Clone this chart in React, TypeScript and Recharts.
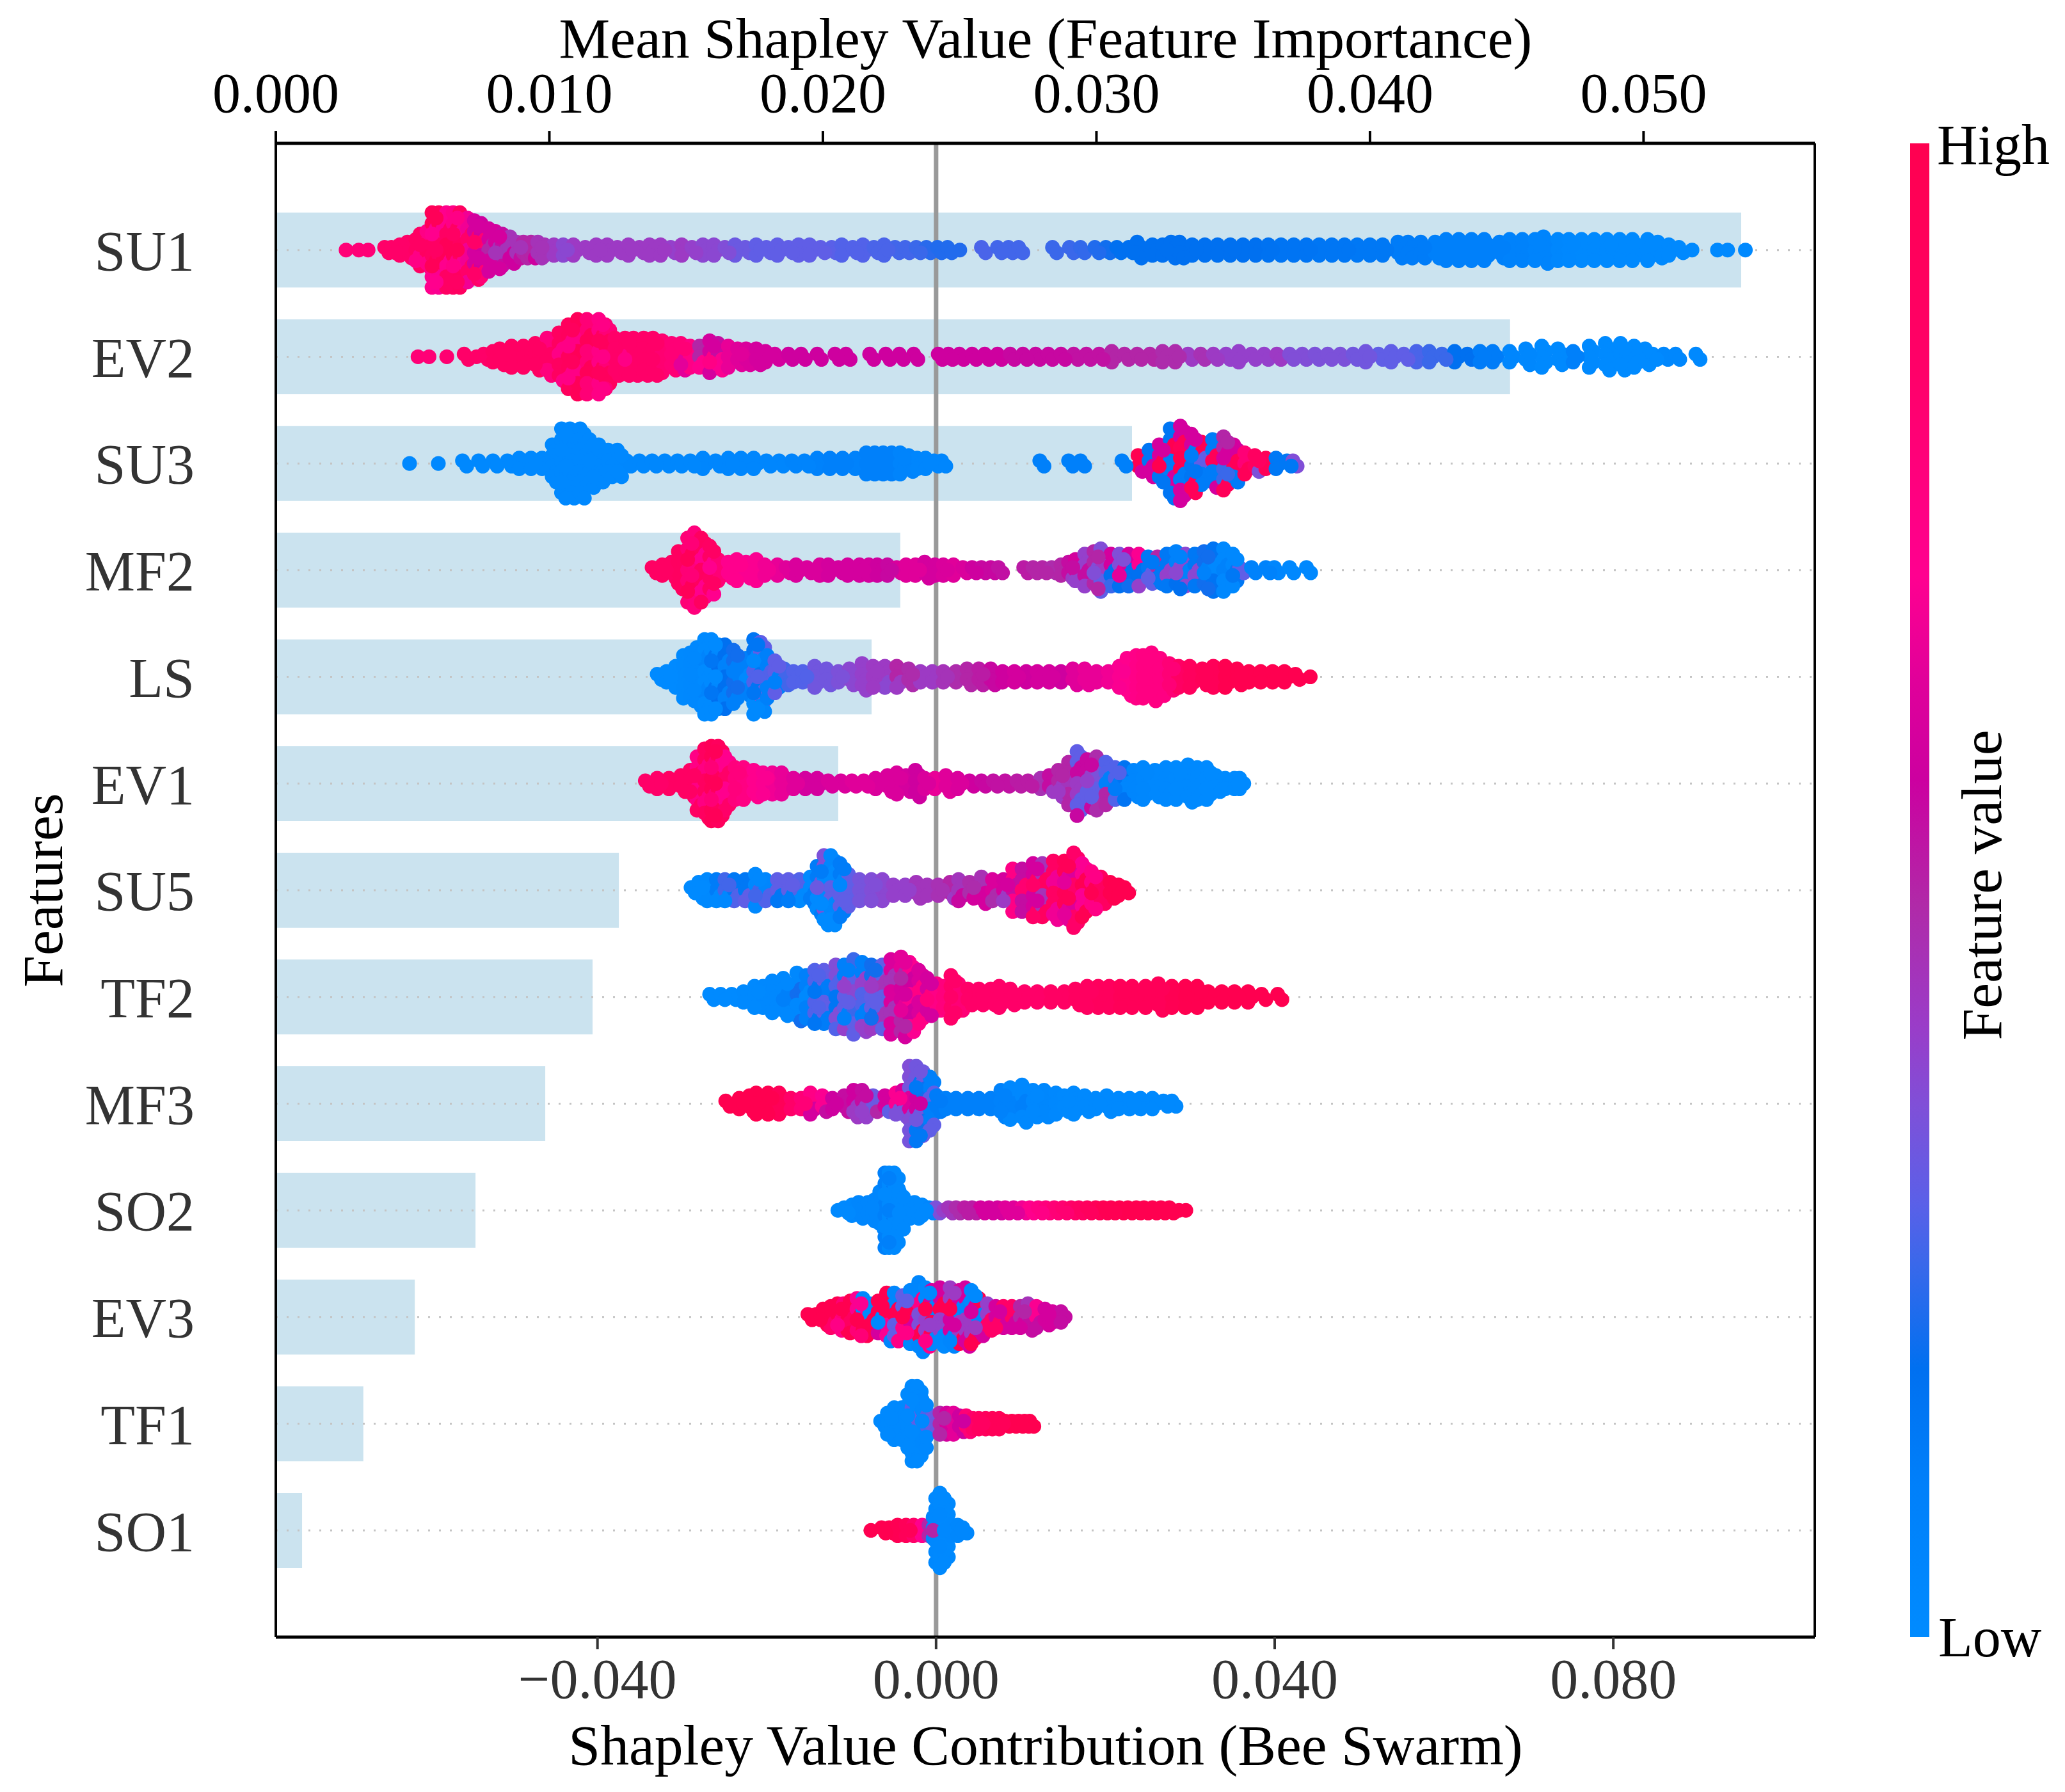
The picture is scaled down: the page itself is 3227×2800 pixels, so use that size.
import React from 'react';
import { ComposedChart, Bar, Scatter, XAxis, YAxis, ReferenceLine } from 'recharts';

const FEATURES = ['SU1', 'EV2', 'SU3', 'MF2', 'LS', 'EV1', 'SU5', 'TF2', 'MF3', 'SO2', 'EV3', 'TF1', 'SO1'];
const MEAN_SHAP = [0.05357, 0.04512, 0.0313, 0.02283, 0.02178, 0.02056, 0.01254, 0.01158, 0.00985, 0.0073, 0.00508, 0.0032, 0.00096];
const TOP_TICKS = [0, 0.01, 0.02, 0.03, 0.04, 0.05];
const BOTTOM_TICKS = [-0.04, 0, 0.04, 0.08];
const ROW_TICKS = [0, 1, 2, 3, 4, 5, 6, 7, 8, 9, 10, 11, 12];

// colour map, feature value 0..1
const CMAP_POS = [0, 0.1, 0.18, 0.25, 0.29, 0.355, 0.41, 0.49, 0.574, 0.64, 0.71, 0.85, 1];
const CMAP_HEX = ['#008bff', '#0080fa', '#0070f0', '#3a68ea', '#5a60e8', '#7f50d8', '#9a3cc8', '#b02aa8', '#cc00a0', '#e0009a', '#ff0090', '#ff0068', '#ff0050'];

// swarm columns: shap value (x 1e-3), dots stacked in the column, feature value(s)
const SU1_X = [-69.7,-68.2,-67.1,-64.9,-64.1,-63.1,-62.2,-61.2,-60.7,-59.9,-59.3,-58.5,-57.6,-56.8,-56,-55.1,-54.3,-53.5,-52.6,-51.8,-51,-50.1,-49.3,-48.5,-47.6,-46.8,-46,-44.9,-43.8,-42.6,-41.2,-39.9,-38.6,-37.4,-36.1,-34.8,-33.6,-32.3,-31.1,-29.8,-28.6,-27.3,-26,-24.7,-23.5,-22.3,-21,-19.8,-18.5,-17.2,-16,-14.7,-13.4,-12.1,-10.9,-9.6,-8.4,-7.1,-5.9,-4.6,-3.4,-2.1,-0.9,0.4,1.6,2.8,5.6,7.5,8.8,10,14,16,17.3,19,20.3,21.6,23,24,25.8,27,28,29,30.5,32,33.5,35,36.5,38,39.5,41,42.5,44,45.5,47,48.5,50,51.5,53,54.8,56,57.5,59.2,60.5,62,63.5,65,66.8,68,69.5,71,72,73.7,75,76.5,78,79.5,81,82.5,84.3,85.5,86.8,88,89.3,92.3,93.5,95.6];
const SU1_N = [1,1,1,2,2,3,4,5,7,8,15,15,15,15,15,13,12,11,9,8,7,6,4,4,4,4,3,3,3,3,2,3,3,2,3,2,3,3,2,3,2,3,3,2,3,2,3,2,3,2,3,3,2,2,3,2,3,2,3,2,2,2,2,2,2,1,2,2,2,2,2,2,2,2,2,2,2,4,3,3,4,4,3,3,3,3,3,3,3,3,3,3,3,3,3,3,3,3,4,4,4,4,5,5,5,5,4,5,5,5,6,5,5,5,5,5,5,5,5,4,3,2,1,1,1,1];
const SU1_F = [0.8,0.8,0.8,0.85,0.85,0.85,0.85,[0.88,0.75],[0.88,0.75],[0.9,0.75],[0.95,0.72,0.88],[0.95,0.7,0.88],[0.95,0.72,0.88],[0.95,0.75,0.88],[0.9,0.7],[0.85,0.68],[0.85,0.6],[0.8,0.58],[0.6,0.5],[0.6,0.45],[0.55,0.45],[0.58,0.45],[0.55,0.45],0.5,[0.5,0.58],0.45,0.45,0.42,0.38,0.42,0.42,0.42,0.42,0.42,0.42,0.42,0.42,0.42,0.4,0.42,0.4,0.38,0.38,0.36,0.32,0.32,0.3,0.3,0.3,0.3,0.3,0.3,0.3,0.29,0.28,0.28,0.28,0.27,0.27,0.26,0.26,0.25,0.23,0.22,0.22,0.22,0.27,0.26,0.26,0.26,0.25,0.25,0.24,0.22,0.2,0.18,0.18,0.18,0.18,0.18,0.18,0.18,0.18,0.18,0.18,0.18,0.18,0.18,0.17,0.16,0.16,0.16,0.15,0.15,0.15,0.14,0.14,0.14,0.12,0.12,0.12,0.1,0.1,0.1,0.1,0.1,0.1,0.08,0.08,0.06,0.06,0.04,0.03,0.02,0.02,0.02,0.02,0.02,0.02,0.02,0.02,0.02,0.02,0.02,0.02,0.02];

const EV2_X = [-61.2,-59.9,-57.8,-55.5,-54.3,-53.2,-52.1,-51.3,-49.9,-48.5,-47.1,-45.7,-44.3,-43.2,-42.1,-41,-39.6,-38.8,-37.7,-36.5,-35.5,-34.3,-33.2,-32.1,-31,-29.9,-28.8,-27.7,-26.5,-25.5,-24.3,-23.2,-22.2,-21,-19.9,-18.8,-17.2,-15.7,-13.8,-11.7,-10.4,-7.6,-5.7,-4.1,-2.4,0.5,1.7,3,4.5,6,7.5,9,10.5,12,13.5,15,16.5,18,19.5,21,22.5,24,25.5,27,28.5,30,31.5,33,34.5,36,37.5,39,40.5,42,43.5,45,46.5,48,49.5,51,52.5,54,55.5,57,58.5,60,61.5,63,64.5,66,68,69.9,71.8,73.7,75.5,77.4,79.3,81.1,82.7,84,84.9,86.2,87.6,90];
const EV2_N = [1,1,1,2,1,2,3,4,5,5,6,8,10,13,15,15,15,13,8,8,8,8,8,7,6,6,5,5,7,6,5,4,4,4,3,2,2,2,2,2,2,2,2,2,2,2,2,2,2,2,2,2,2,2,2,2,2,2,2,3,2,2,2,3,3,2,2,2,2,3,2,2,2,2,2,2,2,2,2,3,2,3,2,3,3,2,3,2,3,3,3,4,5,4,3,5,6,6,5,4,2,2,2,2];
const EV2_F = [0.8,0.8,0.82,0.85,0.85,0.85,0.88,0.88,0.88,0.88,0.88,[0.88,0.78],[0.9,0.75],[0.92,0.75],[0.95,0.75],[0.95,0.8],[0.92,0.75],[0.92,0.8],0.85,[0.85,0.75],0.85,0.85,0.85,0.82,0.8,[0.8,0.65],0.75,[0.72,0.5],[0.75,0.6],[0.7,0.55],0.66,0.64,0.62,0.6,0.6,0.6,0.58,0.58,0.58,0.58,0.58,0.58,0.58,0.58,0.58,0.58,0.58,0.58,0.58,0.58,0.58,0.56,0.56,0.56,0.56,[0.56,0.5],0.54,0.54,0.54,[0.54,0.5],0.5,[0.5,0.45],[0.5,0.45],0.48,0.48,[0.52,0.42],0.46,0.42,0.4,0.4,0.4,0.4,[0.42,0.36],0.36,0.36,0.35,0.35,0.35,0.33,0.33,0.3,0.3,0.3,0.27,0.25,[0.25,0.18],0.18,0.18,[0.3,0.12],0.12,0.05,0.04,0.02,0.02,[0.02,0.1],0.02,0.01,0.01,0.01,0.01,0.01,0.04,0.04,0.02];

const SU3_X = [-62.2,-58.8,-55.7,-53.8,-52.1,-50.4,-49,-47.6,-46.3,-45.1,-44,-43,-41.8,-40.7,-39.6,-38.5,-37.4,-36.3,-34.8,-33.3,-31.8,-30.3,-28.8,-27.3,-25.8,-24.3,-22.8,-21.3,-19.8,-18.3,-16.8,-15.3,-13.8,-12.3,-10.8,-9.3,-8,-7,-6,-5,-4,-3,-2,-1,0,0.9,12.5,15.9,17.3,22.2,24.1,25.4,26.6,27.9,29.1,30.4,31.6,32.9,34.2,35.4,36.7,37.9,39.2,40.4,41.7,42.4];
const SU3_N = [1,1,2,2,2,2,3,3,3,8,14,14,14,10,8,6,6,2,2,2,2,2,2,3,2,3,3,3,2,2,2,2,3,3,3,3,5,5,5,5,5,4,3,3,2,2,2,2,2,2,4,6,8,14,15,12,9,10,11,8,5,4,3,3,2,2];
const SU3_F = [0.03,0.03,0.03,0.03,0.03,0.03,0.03,0.03,0.03,0.03,0.03,0.03,0.03,0.03,0.03,0.03,0.03,0.04,0.04,0.04,0.04,0.04,0.04,0.05,0.05,0.05,0.05,0.05,0.05,0.05,0.06,0.06,0.08,0.1,0.1,0.08,0.1,0.1,0.1,0.1,0.06,0.06,0.05,0.05,0.05,0.05,0.1,0.1,0.1,0.1,[1,0.6],[0.6,1,0.15],[1,0.15,0.6],[0.6,0.15,1,0.12],[1,0.12,0.6,0.95],[0.15,0.95,0.6,0.12],[0.12,0.6,1,0.3],[0.95,0.12,0.6,0.12],[0.6,0.25,0.95,0.5],[0.12,0.6,0.95],[0.95,0.4,0.8],[0.9,0.35],[0.95,0.45],[0.9,0.14],[0.36,0.14],0.36];

const MF2_X = [-33.3,-32.1,-31,-30.2,-29.1,-28.3,-27.5,-26.5,-25.5,-24.3,-23.3,-22.2,-21,-20,-18.5,-17.5,-16.3,-15,-13.5,-12.5,-11.3,-10.2,-8.8,-7.7,-6.7,-5.5,-4.4,-3.3,-2.2,-1.1,0.1,1.1,2.3,3.4,4.5,5.6,6.7,7.6,10.6,11.7,12.8,13.9,15,15.9,16.7,17.8,18.9,19.7,20.9,21.9,23,24.2,25.3,26.4,27.5,28.6,29.7,30.8,31.9,33,34.2,35.3,36.1,37.5,39.2,40.2,42,44];
const MF2_N = [2,3,4,8,13,15,13,10,5,4,5,4,5,3,3,2,3,2,3,3,2,3,3,3,3,3,2,3,3,4,3,3,3,2,2,2,2,2,2,2,2,2,3,4,5,7,8,9,7,7,7,7,6,6,7,8,7,7,8,9,9,7,2,2,2,2,2,2];
const MF2_F = [0.88,0.88,0.88,0.9,[0.95,0.8],[0.95,0.78],[0.9,0.72],[0.88,0.72],0.8,0.72,0.72,0.7,0.7,0.68,0.66,0.64,0.62,0.62,0.62,0.6,0.6,0.6,0.6,0.6,0.58,0.56,0.62,0.64,0.64,0.6,0.6,0.62,0.64,0.62,0.58,0.56,0.56,0.54,0.52,0.5,0.5,0.48,[0.5,0.44],[0.55,0.42],[0.6,0.4],[0.55,0.4],[0.36,0.5],[0.36,0.42,0.3],[0.25,0.6,0.18],[0.18,0.36,0.65],[0.2,0.6,0.18],[0.18,0.4,0.7],[0.3,0.7,0.14],[0.14,0.3,0.5],[0.14,0.4],[0.08,0.38,0.18],[0.38,0.08],[0.38,0.14],[0.08,0.2],[0.03,0.16],[0.03,0.08],[0.03,0.14],0.3,0.08,0.08,0.05,0.03,0.03];

const LS_X = [-32.7,-31.6,-30.5,-29.6,-28.8,-28,-27.1,-26.3,-25.5,-24.7,-23.7,-23,-22.2,-21.3,-20.5,-19.7,-18.8,-17.7,-16.6,-15.5,-14.1,-12.7,-11.3,-10,-8.5,-7.2,-5.8,-4.4,-3,-1.6,-0.2,1.1,2.6,3.9,5.3,6.7,8.1,9.5,10.9,12.2,13.6,15,16.4,17.8,19.2,20.6,21.9,22.8,23.9,24.7,25.7,26.7,27.8,28.9,30.2,31.7,33,34.4,35.8,37.2,38.6,40,41.4,42.7,44.2];
const LS_N = [2,3,5,9,10,12,15,15,13,13,11,5,8,15,14,9,7,4,3,3,5,4,3,4,6,5,5,5,4,3,3,3,3,4,4,4,3,3,3,3,3,3,4,4,3,3,5,8,9,9,10,8,6,5,5,4,5,5,4,3,3,3,3,2,1];
const LS_F = [0.01,0.01,0.01,0.02,0.03,0.03,[0.01,0.06],[0.01,0.15],[0.03,0.18],[0.08,0.18],[0.1,0.2],0.1,[0.1,0.02],[0.28,0.15,0.02],[0.15,0.3,0.05],[0.28,0.1],[0.1,0.3],0.26,0.28,0.28,0.33,0.33,0.35,0.38,0.4,0.42,[0.42,0.38],[0.42,0.5],0.48,0.42,0.42,0.45,0.48,0.5,0.52,0.56,0.58,0.6,0.58,0.6,0.6,0.58,0.64,0.66,0.66,0.68,0.7,0.72,0.74,0.76,0.76,0.76,0.8,0.88,0.92,0.95,0.95,1,1,1,1,1,1,1,1];

const EV1_X = [-34.1,-32.7,-31.3,-29.9,-28.8,-28,-27.1,-26.3,-25.5,-24.7,-23.5,-22.5,-21.3,-20.2,-19.1,-18,-16.6,-15.2,-13.8,-12.5,-11,-9.7,-8.3,-6.9,-5.5,-4.4,-3.3,-2.2,-1.1,0.1,1.4,2.8,4.2,5.6,7,8.4,9.8,11.1,12.6,13.6,14.7,15.9,16.9,18.1,19.2,20.3,21.4,22.5,23.6,24.7,26.1,27.4,28.6,30,31.1,32.2,33.3,34.4,35.5,36.1];
const EV1_N = [2,3,3,4,6,11,14,15,15,11,7,7,6,5,5,5,3,3,3,2,2,2,2,3,4,5,4,6,3,3,4,3,2,2,2,2,2,2,3,4,6,9,13,10,11,9,7,7,6,7,6,7,7,8,7,7,4,3,3,3];
const EV1_F = [0.85,0.85,0.88,0.88,0.88,[0.88,0.75],[0.9,0.76],[0.95,0.8],[0.92,0.72],[0.85,0.72],0.78,0.76,0.72,0.7,0.68,0.66,0.64,0.6,0.6,0.62,0.62,0.64,0.64,0.62,0.62,0.62,0.6,0.58,0.62,0.66,0.64,0.62,0.58,0.56,0.54,0.54,0.52,0.52,0.46,[0.42,0.55],[0.42,0.5],[0.44,0.5],[0.56,0.42,0.3],[0.4,0.3,0.56],[0.35,0.3,0.48],[0.28,0.1,0.5],[0.12,0.28],[0.05,0.16],0.05,0.04,0.03,0.03,0.02,0.02,0.02,0.01,0.01,0.01,0.01,0.01];

const SU5_X = [-28.7,-27.8,-26.8,-25.7,-24.7,-23.6,-22.3,-21.1,-19.9,-18.5,-17.2,-15.9,-14.6,-13.8,-13,-12.2,-11.1,-10.1,-8.8,-7.4,-6.1,-4.8,-3.4,-2.1,-0.8,0.5,1.9,2.9,4.2,5.6,6.9,8.2,9.3,10.4,11.7,12.8,14.1,15.4,16.5,17.5,18.6,19.7,20.8,21.8,22.5];
const SU5_N = [2,4,5,5,5,5,5,7,5,5,5,5,6,10,14,14,11,7,5,5,5,3,3,4,3,3,4,5,4,6,5,5,9,9,11,11,12,12,15,11,8,6,4,3,2];
const SU5_F = [0.01,0.01,0.02,[0.02,0.12],[0.03,0.26],[0.03,0.14,0.28],[0.14,0.3],[0.03,0.26],[0.05,0.28],[0.14,0.3],[0.12,0.3],[0.02,0.28],[0.01,0.12],[0.01,0.12,0.32],[0.02,0.35,0.01],[0.01,0.3,0.04],[0.04,0.3,0.12],0.3,0.34,0.36,0.38,0.4,0.4,0.44,0.44,0.46,[0.5,0.42],[0.56,0.44],[0.6,0.48],[0.6,0.46],[0.62,0.48],[0.6,0.42],[0.75,0.55],[0.82,0.55],[0.85,0.6],[0.9,0.45],[0.88,0.68],[0.95,0.65],[0.85,0.62],[0.98,0.7],[0.98,0.75],0.9,1,1,1];

const TF2_X = [-26.5,-25.2,-23.9,-22.5,-21.2,-20.2,-19.1,-17.8,-16.2,-15.1,-14.1,-13,-11.6,-10.6,-9.5,-8.5,-7.4,-6.1,-5.1,-3.9,-2.9,-1.8,-0.8,0.3,1.1,2,2.9,4,5.3,6.7,7.7,9,10.7,12.2,13.8,15.4,16.7,18.1,19.4,20.7,22,23.4,25,26.5,28.1,29.7,31.1,32.4,34,35.5,37.1,38.7,40.6];
const TF2_N = [2,2,2,3,5,5,7,8,10,9,11,11,13,13,15,14,13,13,15,16,14,11,8,6,5,9,6,4,4,4,5,4,3,3,3,3,4,5,5,5,5,5,5,6,5,5,5,3,3,3,3,2,2];
const TF2_F = [0.01,0.01,0.01,0.02,0.02,0.03,0.03,[0.03,0.1],[0.03,0.2],[0.02,0.1],[0.15,0.28],[0.12,0.3],[0.15,0.36,0.28],[0.3,0.1,0.4],[0.38,0.25,0.3],[0.4,0.28,0.1],[0.42,0.3,0.2],[0.45,0.3],[0.62,0.45],[0.65,0.5,0.6],[0.7,0.58],[0.75,0.62],[0.78,0.6],0.75,0.78,0.85,0.8,0.85,0.85,0.85,0.85,0.85,0.85,0.85,0.88,0.88,0.9,0.9,0.92,0.92,0.95,0.95,0.95,0.95,0.98,1,1,1,1,1,1,1,1];

const MF3_X = [-24.6,-23,-21.8,-21,-19.6,-18.3,-16.9,-15.7,-14.6,-13.2,-12,-10.6,-9.5,-8.5,-7.2,-5.8,-4.5,-3.7,-2.9,-2.1,-1.3,-0.5,0.3,1.4,2.6,4,5.3,6.7,7.9,9,10.4,11.7,13,14.4,15.4,16.5,17.8,19.1,20.4,21.8,23.1,24.4,25.8,27.1,28.1];
const MF3_N = [2,3,4,5,5,5,3,3,5,4,3,4,6,6,4,4,5,6,15,15,13,11,4,3,3,3,3,3,6,7,8,6,6,5,4,5,4,3,4,3,3,3,3,2,2];
const MF3_F = [1,1,1,1,1,0.95,0.85,0.8,[0.75,0.6],[0.55,0.7],0.58,0.55,[0.58,0.42],[0.55,0.4],[0.32,0.5],[0.3,0.6],[0.35,0.7],[0.34,0.6],[0.36,0.34,0.62],[0.33,0.14,0.58],[0.32,0.2],[0.3,0.1],0.12,0.1,0.1,0.1,0.1,0.1,0.08,[0.08,0.03],[0.03,0.1],0.03,0.04,0.03,0.02,0.02,0.02,0.02,0.02,0.02,0.02,0.02,0.02,0.02,0.02];

const SO2_X = [-11.6,-10.6,-9.7,-8.9,-7.8,-7,-6.4,-5.8,-5.3,-4.7,-4.1,-3.3,-2.3,-1.4,-0.6,0.2,0.9,1.7,2.6,3.6,4.5,5.5,6.5,7.5,8.4,9.4,10.4,11.3,12.3,13.2,14.2,15.2,16.2,17.1,18.1,19.1,20,20.9,21.9,22.9,23.9,24.8,25.8,26.8,27.8,28.7,29.5];
const SO2_N = [1,2,3,4,4,5,8,15,15,15,8,4,4,3,2,2,1,2,2,2,2,2,2,2,2,2,2,2,2,2,2,2,2,2,2,2,2,2,2,2,2,2,2,2,2,1,1];
const SO2_F = [0.02,0.02,0.03,0.05,0.05,0.05,0.05,[0.1,0.02],[0.02,0.14],0.02,0.02,0.02,0.02,0.02,0.05,0.35,0.4,0.44,0.48,0.52,0.52,0.6,0.6,0.6,0.64,0.64,0.68,0.72,0.75,0.78,0.8,0.82,0.85,0.88,0.92,0.95,0.98,0.98,1,1,1,1,1,1,1,1,1];

const EV3_X = [-14.9,-13.9,-13.1,-12.2,-11.4,-10.7,-9.9,-9.1,-8.4,-7.6,-6.6,-5.6,-4.7,-3.7,-2.8,-1.8,-1,-0.3,0.7,1.9,3,3.7,4.4,5.3,6.3,7.3,8.2,9.2,10.2,11.1,12.1,13.1,14,15];
const EV3_N = [2,2,4,5,6,6,7,8,8,6,7,10,10,9,11,14,12,11,12,12,11,12,11,8,6,5,5,5,5,6,5,4,3,3];
const EV3_F = [1,1,1,[0.85,1],[0.75,1],[1,0.8],[1,0.9],[1,0.8,0.7],[0.7,1,0.02],[0.02,1,0.7],[1,0.02,0.6],[1,0.7,0.05,1],[0.05,1,0.3,0.75],[0.3,1,0.75,0.05],[0.05,1,0.6,0.02],[1,0.05,0.75,0.35],[0.75,0.02,1,0.4],[0.02,0.6,0.05,1],[0.4,0.02,0.6,1],[0.6,0.05,0.42,1],[0.42,1,0.6,0.02],[0.42,0.6,0.05],[0.6,0.42,1,0.02],[0.6,1,0.05],[0.85,0.6,0.4],[0.6,0.85],[0.85,0.6],[0.85,0.6,0.45],[0.6,0.5],[0.55,0.45],[0.7,0.55],0.6,0.6,0.55];

const TF1_X = [-6.3,-5.5,-4.7,-3.8,-3.1,-2.6,-2,-1.4,-0.8,-0.1,0.7,1.5,2.3,3,3.8,4.6,5.3,6.1,6.9,7.7,8.4,9.2,10,10.7,11.3];
const TF1_N = [2,5,7,7,12,15,15,10,4,4,5,5,5,4,4,3,3,3,3,3,2,2,2,2,2];
const TF1_F = [0.02,0.02,0.02,0.02,0.02,[0.02,0.02,0.3,0.02],[0.02,0.3,0.02],0.03,0.28,0.32,0.5,0.6,0.65,0.58,0.8,0.85,0.9,0.92,0.95,0.95,1,1,1,1,1];

const SO1_X = [-7.7,-6.2,-5.3,-4.3,-3.3,-2.4,-1.4,-0.6,-0.1,0.2,0.7,1.2,2.1,2.8,3.4];
const SO1_N = [1,2,2,3,3,3,3,3,6,13,15,13,3,3,2];
const SO1_F = [1,1,1,0.98,0.95,0.85,0.72,0.5,0.05,0.03,[0.03,0.03,0.03,0.02],0.02,0.03,0.04,0.04];

const SWARM_ROWS: [number[], number[], (number | number[])[]][] = [
  [SU1_X, SU1_N, SU1_F], [EV2_X, EV2_N, EV2_F], [SU3_X, SU3_N, SU3_F], [MF2_X, MF2_N, MF2_F],
  [LS_X, LS_N, LS_F], [EV1_X, EV1_N, EV1_F], [SU5_X, SU5_N, SU5_F], [TF2_X, TF2_N, TF2_F],
  [MF3_X, MF3_N, MF3_F], [SO2_X, SO2_N, SO2_F], [EV3_X, EV3_N, EV3_F], [TF1_X, TF1_N, TF1_F], [SO1_X, SO1_N, SO1_F],
];

const SERIF = '"Liberation Serif", "Times New Roman", serif';
const TICK_SIZE = 88;
const TITLE_SIZE = 89.6;
const DOT_R = 11.5;
const STACK_STEP = 0.05; // row units between stacked dots
const BRICK = 0.5; // x shift (1e-3) between neighbouring dots of a stack

const hexToRgb = (h: string) => [1, 3, 5].map(i => parseInt(h.slice(i, i + 2), 16));

function colorOf(f: number) {
  let i = 0;
  while (i < CMAP_POS.length - 2 && f > CMAP_POS[i + 1]) i++;
  const t = Math.min(1, Math.max(0, (f - CMAP_POS[i]) / (CMAP_POS[i + 1] - CMAP_POS[i])));
  const a = hexToRgb(CMAP_HEX[i]);
  const b = hexToRgb(CMAP_HEX[i + 1]);
  return `rgb(${a.map((v, k) => Math.round(v + (b[k] - v) * t)).join(',')})`;
}

// stack each column's dots around the row centre, some kept for a front pass
function buildRow(rowIndex: number) {
  const [xs, ns, fs] = SWARM_ROWS[rowIndex];
  const back: { shap: number; row: number; f: number }[] = [];
  const front: { shap: number; row: number; f: number }[] = [];
  xs.forEach((x, c) => {
    const n = ns[c] ?? 1;
    const entry = fs[Math.min(c, fs.length - 1)];
    const list = Array.isArray(entry) ? entry : [entry];
    for (let i = 0; i < n; i++) {
      const dot = {
        shap: (x + (n > 1 ? (i % 2 - 0.5) * BRICK : 0)) / 1000,
        row: rowIndex + (i - (n - 1) / 2) * STACK_STEP,
        f: list[(Math.floor(i / 3) + Math.floor(c / 3)) % list.length],
      };
      if (i % 3 === 1 && c % 3 === 1) front.push(dot);
      else back.push(dot);
    }
  });
  return [...back, ...front];
}

const barData = FEATURES.map((name, i) => ({ row: i, mean: MEAN_SHAP[i] }));

const SwarmDot = (p: any) => <circle cx={p.cx} cy={p.cy} r={DOT_R} fill={colorOf(p.payload.f)} />;

export default function App() {
  return (
    <div style={{ position: 'absolute', left: 0, top: 0, width: 3227, height: 2800, background: '#fff' }}>
      <ComposedChart
        width={3227}
        height={2800}
        layout="vertical"
        data={barData}
        margin={{ top: 0, right: 0, bottom: 0, left: 0 }}
      >
        <defs>
          <linearGradient id="featureScale" x1="0" y1="1" x2="0" y2="0">
            {CMAP_POS.map((p, i) => <stop key={p} offset={p} stopColor={CMAP_HEX[i]} />)}
          </linearGradient>
        </defs>

        <XAxis
          xAxisId="top"
          orientation="top"
          type="number"
          domain={[0, 0.05626]}
          ticks={TOP_TICKS}
          allowDataOverflow
          height={224}
          tickSize={19}
          tickMargin={30}
          tickFormatter={(v: number) => v.toFixed(3)}
          tick={{ fontFamily: SERIF, fontSize: TICK_SIZE, fill: '#000' }}
          tickLine={{ stroke: '#000', strokeWidth: 4 }}
          axisLine={{ stroke: '#000', strokeWidth: 5 }}
        />
        <XAxis
          xAxisId="bottom"
          orientation="bottom"
          type="number"
          dataKey="shap"
          domain={[-0.078, 0.1038]}
          ticks={BOTTOM_TICKS}
          allowDataOverflow
          height={242}
          tickSize={19}
          tickMargin={14}
          tickFormatter={(v: number) => v.toFixed(3).replace('-', '\u2212')}
          tick={{ fontFamily: SERIF, fontSize: TICK_SIZE, fill: '#333' }}
          tickLine={{ stroke: '#333', strokeWidth: 4 }}
          axisLine={{ stroke: '#000', strokeWidth: 5 }}
        />
        <YAxis
          yAxisId="rows"
          type="number"
          dataKey="row"
          domain={[-1, 13]}
          ticks={ROW_TICKS}
          interval={0}
          width={431}
          tickSize={0}
          tickMargin={127}
          tickFormatter={(v: number) => FEATURES[v]}
          tick={{ fontFamily: SERIF, fontSize: TICK_SIZE, fill: '#333' }}
          axisLine={{ stroke: '#000', strokeWidth: 4 }}
        />
        <YAxis yAxisId="swarm" type="number" dataKey="row" domain={[-1, 13]} hide />
        <YAxis
          yAxisId="frame"
          orientation="right"
          type="number"
          domain={[-1, 13]}
          width={391}
          tick={false}
          tickLine={false}
          axisLine={{ stroke: '#000', strokeWidth: 4 }}
        />

        <ReferenceLine xAxisId="bottom" yAxisId="rows" x={0} stroke="#999" strokeWidth={7} />
        {ROW_TICKS.map(r => (
          <ReferenceLine key={r} xAxisId="bottom" yAxisId="rows" y={r} stroke="#c4c4c4" strokeWidth={3} strokeDasharray="3 14" />
        ))}

        <Bar xAxisId="top" yAxisId="rows" dataKey="mean" barSize={117} fill="#2f8fbf" fillOpacity={0.25} isAnimationActive={false} />

        {ROW_TICKS.map(r => (
          <Scatter
            key={FEATURES[r]}
            xAxisId="bottom"
            yAxisId="swarm"
            data={buildRow(r)}
            dataKey="row"
            shape={SwarmDot}
            isAnimationActive={false}
          />
        ))}

        <text x={1634} y={90} textAnchor="middle" fontFamily={SERIF} fontSize={TITLE_SIZE} fill="#000">
          Mean Shapley Value (Feature Importance)
        </text>
        <text x={1634} y={2757} textAnchor="middle" fontFamily={SERIF} fontSize={TITLE_SIZE} fill="#000">
          Shapley Value Contribution (Bee Swarm)
        </text>
        <text transform="translate(97 1391) rotate(-90)" textAnchor="middle" fontFamily={SERIF} fontSize={TITLE_SIZE} fill="#000">
          Features
        </text>

        <rect x={2985} y={224} width={30} height={2334} fill="url(#featureScale)" />
        <text x={3027} y={256} fontFamily={SERIF} fontSize={TICK_SIZE} fill="#000">High</text>
        <text x={3029} y={2588} fontFamily={SERIF} fontSize={TICK_SIZE} fill="#000">Low</text>
        <text transform="translate(3127 1383) rotate(-90)" textAnchor="middle" fontFamily={SERIF} fontSize={TITLE_SIZE} fill="#000">
          Feature value
        </text>
      </ComposedChart>
    </div>
  );
}
